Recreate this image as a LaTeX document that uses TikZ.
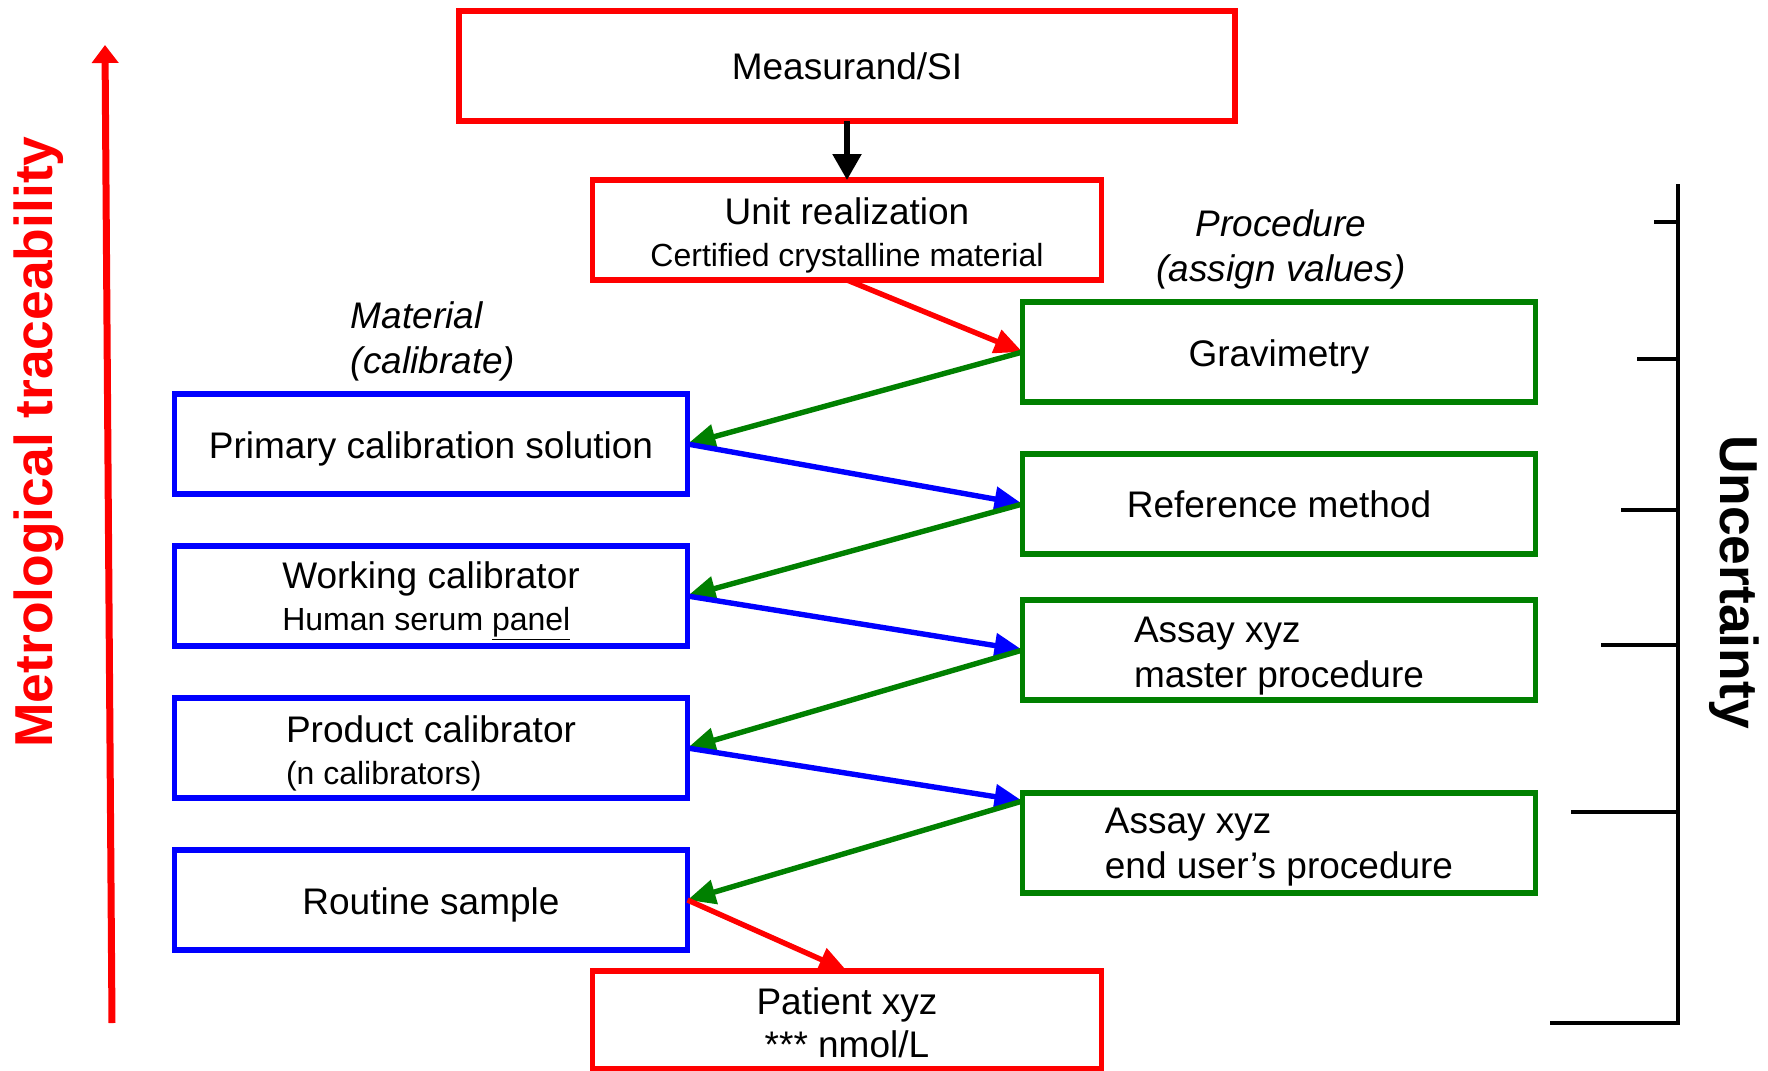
\documentclass[tikz,border=0pt]{standalone}
\usepackage{fontspec}
\setmainfont{Liberation Sans}
\usetikzlibrary{arrows.meta}
\definecolor{rd}{RGB}{255,0,0}
\definecolor{bl}{RGB}{0,0,255}
\definecolor{gn}{RGB}{0,128,0}
\newcommand\MainFs{\fontsize{18.5}{22.5}\selectfont}
\newcommand\SmallFs{\fontsize{16}{19}\selectfont}
\newcommand\BigFs{\fontsize{26.7}{30}\selectfont}
\newcommand\Tp{\rule{0pt}{18.5pt}}
\newcommand\Tq{\rule{0pt}{16.5pt}}
\begin{document}
\begin{tikzpicture}[x=0.5pt,y=-0.5pt,
  box/.style={draw, line width=2.7pt, inner sep=0pt, outer sep=0pt,
    minimum width=256.5pt, minimum height=50pt, font=\MainFs, align=center},
  redbox/.style={box, draw=rd},
  bluebox/.style={box, draw=bl},
  greenbox/.style={box, draw=gn},
  lbl/.style={font=\MainFs\itshape, inner sep=0pt},
  arr/.style={line width=2.7pt, -{Triangle[length=14pt,width=12pt]}},
  brk/.style={line width=1.7pt, black}
]
\useasboundingbox (0,0) rectangle (1768,1071);

% red boxes
\node[redbox, minimum width=388pt, minimum height=55pt] (meas) at (847,66) {Measurand/SI};
\node[redbox, minimum width=254.5pt] (unit) at (847,230) {\Tp Unit realization\\[-1.5pt]{\SmallFs Certified crystalline material}};
\node[redbox, minimum width=254.5pt, minimum height=49pt] (pat) at (847,1020) {\Tq Patient xyz\\[-1pt]*** nmol/L};

% green boxes
\node[greenbox] (grav) at (1279,352) {\Tp Gravimetry};
\node[greenbox] (ref) at (1279,504) {Reference method};
\node[greenbox, align=left] (mast) at (1279,650) {\Tp Assay xyz\\master procedure};
\node[greenbox, align=left] (endu) at (1279,843) {\Tq Assay xyz\\end user’s procedure};

% blue boxes
\node[bluebox] (prim) at (431,444) {\Tp Primary calibration solution};
\node[bluebox, align=left] (work) at (431,596) {\Tp Working calibrator\\[-1.5pt]{\SmallFs Human serum \underline{panel}}};
\node[bluebox, align=left] (prod) at (431,748) {\Tp Product calibrator\\[-1.5pt]{\SmallFs (n calibrators)}};
\node[bluebox] (rout) at (431,900) {\Tp Routine sample};

% column labels
\node[lbl, align=left] (matl) at (433,341) {Material\\(calibrate)};
\node[lbl, align=center] (proc) at (1281,249) {Procedure\\(assign values)};

% side labels
\node[rotate=90, font=\BigFs\bfseries, text=rd, inner sep=0pt] (metro) at (39,442) {Metrological traceability};
\node[rotate=-90, font=\BigFs\bfseries, inner sep=0pt] (unc) at (1734,582) {Uncertainty};

% connectors
\draw[line width=2.7pt, -{Triangle[length=13pt,width=14pt]}] (meas.south) -- (unit.north);
\draw[arr, rd] (unit.south) -- (grav.west);
\draw[arr, gn] (grav.west) -- (prim.east);
\draw[arr, bl] (prim.east) -- (ref.west);
\draw[arr, gn] (ref.west) -- (work.east);
\draw[arr, bl] (work.east) -- (mast.west);
\draw[arr, gn] (mast.west) -- (prod.east);
\draw[arr, bl] (prod.east) -- ([yshift=-4pt]endu.north west);
\draw[arr, gn] ([yshift=-4pt]endu.north west) -- (rout.east);
\draw[arr, rd] (rout.east) -- (pat.north);

% traceability arrow
\draw[rd, line width=3.5pt, -{Triangle[length=9pt,width=13pt]}] (112,1023) -- (105,45);

% uncertainty bracket
\draw[brk] (1678,184) -- (1678,1023) -- (1550,1023);
\draw[brk] (1654,222) -- (1678,222);
\draw[brk] (1637,359) -- (1678,359);
\draw[brk] (1621,510) -- (1678,510);
\draw[brk] (1601,645) -- (1678,645);
\draw[brk] (1571,812) -- (1678,812);
\end{tikzpicture}
\end{document}
